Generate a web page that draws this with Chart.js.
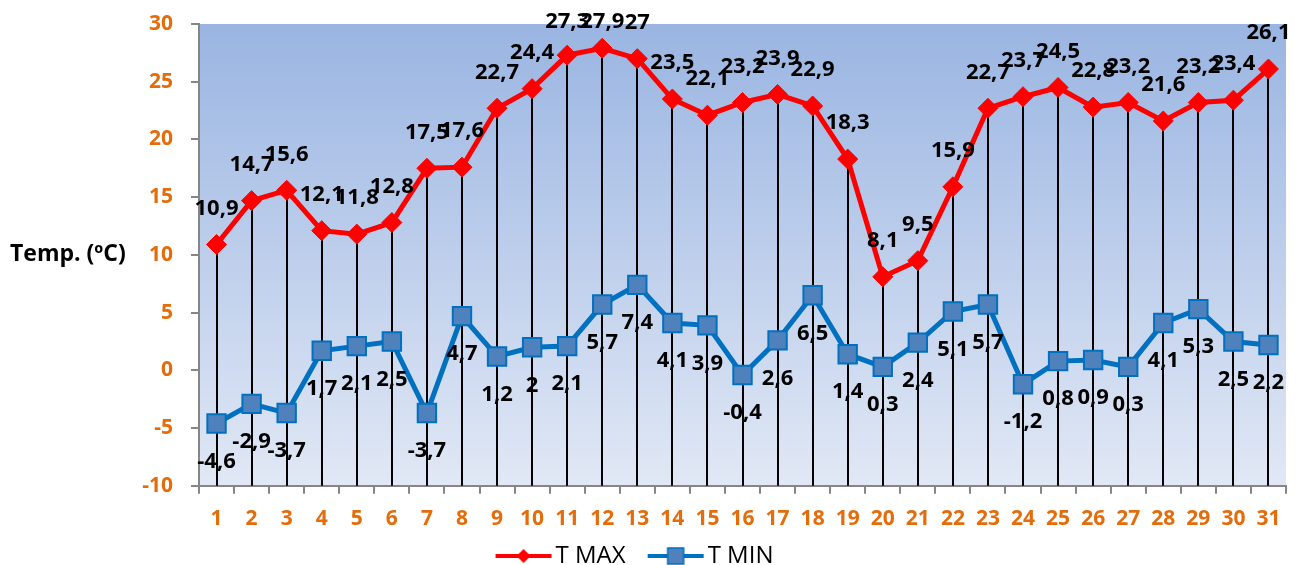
<!DOCTYPE html>
<html>
<head>
<meta charset="utf-8">
<script src="https://cdn.jsdelivr.net/npm/chart.js@4"></script>
<style>
  body { margin: 0; background: #fff; }
</style>
</head>
<body>
<canvas id="tempChart" width="1305" height="565"></canvas>
<script>
// Data
const days = ['1','2','3','4','5','6','7','8','9','10','11','12','13','14','15','16',
              '17','18','19','20','21','22','23','24','25','26','27','28','29','30','31'];
const tMax = [10.9, 14.7, 15.6, 12.1, 11.8, 12.8, 17.5, 17.6, 22.7, 24.4, 27.3, 27.9, 27, 23.5, 22.1, 23.2,
              23.9, 22.9, 18.3, 8.1, 9.5, 15.9, 22.7, 23.7, 24.5, 22.8, 23.2, 21.6, 23.2, 23.4, 26.1];
const tMin = [-4.6, -2.9, -3.7, 1.7, 2.1, 2.5, -3.7, 4.7, 1.2, 2, 2.1, 5.7, 7.4, 4.1, 3.9, -0.4,
              2.6, 6.5, 1.4, 0.3, 2.4, 5.1, 5.7, -1.2, 0.8, 0.9, 0.3, 4.1, 5.3, 2.5, 2.2];
const yTitle = 'Temp. (ºC)';

const orange = '#E46C0A';
const axisGray = '#868686';
const FONT = "'Open Sans'";

// legend swatches: line with marker (wider than the legend box so the line sits close to the text)
function legendSwatch(lineColor, drawMarker) {
    const c = document.createElement('canvas');
    c.width = 90; c.height = 24;
    const g = c.getContext('2d');
    g.strokeStyle = lineColor;
    g.lineWidth = 4;
    g.beginPath(); g.moveTo(30, 12); g.lineTo(86, 12); g.stroke();
    drawMarker(g, 58);
    return c;
}
const maxSwatch = legendSwatch('#FF0000', (g, cx) => {
    g.fillStyle = '#FF0000';
    g.beginPath(); g.moveTo(cx, 5); g.lineTo(cx + 7, 12); g.lineTo(cx, 19); g.lineTo(cx - 7, 12); g.closePath(); g.fill();
});
const minSwatch = legendSwatch('#0070C0', (g, cx) => {
    g.fillStyle = '#4F81BD'; g.strokeStyle = '#0070C0'; g.lineWidth = 1.5;
    g.fillRect(cx - 8, 4, 16, 16); g.strokeRect(cx - 8, 4, 16, 16);
});

// plot area gradient
const bgPlugin = {
    id: 'plotBg',
    beforeDraw(chart) {
        const {ctx, chartArea: a} = chart;
        const grad = ctx.createLinearGradient(0, a.top, 0, a.bottom);
        grad.addColorStop(0, '#9AB5E2');
        grad.addColorStop(1, '#E1E8F5');
        ctx.save();
        ctx.fillStyle = grad;
        ctx.fillRect(a.left, a.top, a.right - a.left, a.bottom - a.top);
        ctx.restore();
    }
};

// drop lines from T MAX to the category axis
const dropLines = {
    id: 'dropLines',
    beforeDatasetsDraw(chart) {
        const {ctx, chartArea: a} = chart;
        const meta = chart.getDatasetMeta(0);
        ctx.save();
        ctx.strokeStyle = '#000';
        ctx.lineWidth = 2;
        meta.data.forEach(p => {
            ctx.beginPath();
            ctx.moveTo(Math.round(p.x), p.y);
            ctx.lineTo(Math.round(p.x), a.bottom);
            ctx.stroke();
        });
        ctx.restore();
    }
};

// value labels
const valueLabels = {
    id: 'valueLabels',
    afterDatasetsDraw(chart) {
        const ctx = chart.ctx;
        ctx.save();
        ctx.font = 'bold 22px ' + FONT;
        ctx.fillStyle = '#000';
        ctx.textAlign = 'center';
        ctx.textBaseline = 'middle';
        chart.data.datasets.forEach((ds, i) => {
            const meta = chart.getDatasetMeta(i);
            meta.data.forEach((p, j) => {
                const txt = String(ds.data[j]).replace('.', ',');
                let y = i === 0 ? p.y - 36 : p.y + 38;
                if (i === 0) y = Math.max(y, 22);
                ctx.fillText(txt, p.x, y);
            });
        });
        ctx.restore();
    }
};

// horizontal y axis title
const axisTitle = {
    id: 'axisTitle',
    afterDraw(chart) {
        const ctx = chart.ctx;
        ctx.save();
        ctx.font = 'bold 23px ' + FONT;
        ctx.fillStyle = '#000';
        ctx.textAlign = 'left';
        ctx.textBaseline = 'middle';
        ctx.fillText(yTitle, 10, 254);
        ctx.restore();
    }
};

// nudge the legend like the original
const legendShift = {
    id: 'legendShift',
    afterLayout(chart) {
        if (chart.legend) {
            chart.legend.left -= 35;
            chart.legend.top -= 5;
        }
    }
};

const ctx = document.getElementById('tempChart').getContext('2d');
new Chart(ctx, {
    type: 'line',
    data: {
        labels: days,
        datasets: [{
            label: 'T MAX',
            data: tMax,
            borderColor: '#FF0000',
            backgroundColor: '#FF0000',
            borderWidth: 5,
            pointStyle: 'rectRot',
            pointRadius: 10,
            pointBorderWidth: 1,
            tension: 0,
            clip: false
        }, {
            label: 'T MIN',
            data: tMin,
            borderColor: '#0070C0',
            backgroundColor: '#4F81BD',
            pointBorderColor: '#0070C0',
            borderWidth: 5,
            pointStyle: 'rect',
            pointRadius: 13,
            pointBorderWidth: 2,
            tension: 0,
            clip: false
        }]
    },
    options: {
        responsive: false,
        animation: false,
        layout: { padding: { left: 0, right: 19, top: 24, bottom: -18 } },
        plugins: {
            legend: {
                position: 'bottom',
                labels: {
                    usePointStyle: true,
                    pointStyleWidth: 66,
                    padding: 4,
                    color: '#000',
                    font: { family: FONT, size: 24 },
                    generateLabels(chart) {
                        return [
                            { text: 'T MAX', pointStyle: maxSwatch, datasetIndex: 0, fillStyle: '#FF0000', strokeStyle: '#FF0000', lineWidth: 0 },
                            { text: 'T MIN', pointStyle: minSwatch, datasetIndex: 1, fillStyle: '#4F81BD', strokeStyle: '#0070C0', lineWidth: 0 }
                        ];
                    }
                }
            },
            tooltip: { enabled: false }
        },
        scales: {
            x: {
                offset: true,
                grid: { drawOnChartArea: false, offset: true, tickLength: 8, color: axisGray, lineWidth: 2 },
                border: { color: axisGray, width: 2 },
                ticks: {
                    color: orange,
                    font: { family: FONT, weight: 'bold', size: 21 },
                    padding: 13,
                    autoSkip: false,
                    maxRotation: 0
                }
            },
            y: {
                min: -10,
                max: 30,
                afterFit(scale) {
                    scale.width = 199;
                    scale.paddingTop = 0;
                    scale.paddingBottom = 0;
                },
                grid: { drawOnChartArea: false, tickLength: 8, color: axisGray, lineWidth: 2 },
                border: { color: axisGray, width: 2 },
                ticks: {
                    stepSize: 5,
                    color: orange,
                    font: { family: FONT, weight: 'bold', size: 21 },
                    padding: 18
                }
            }
        }
    },
    plugins: [bgPlugin, dropLines, valueLabels, axisTitle, legendShift]
});
</script>
</body>
</html>
